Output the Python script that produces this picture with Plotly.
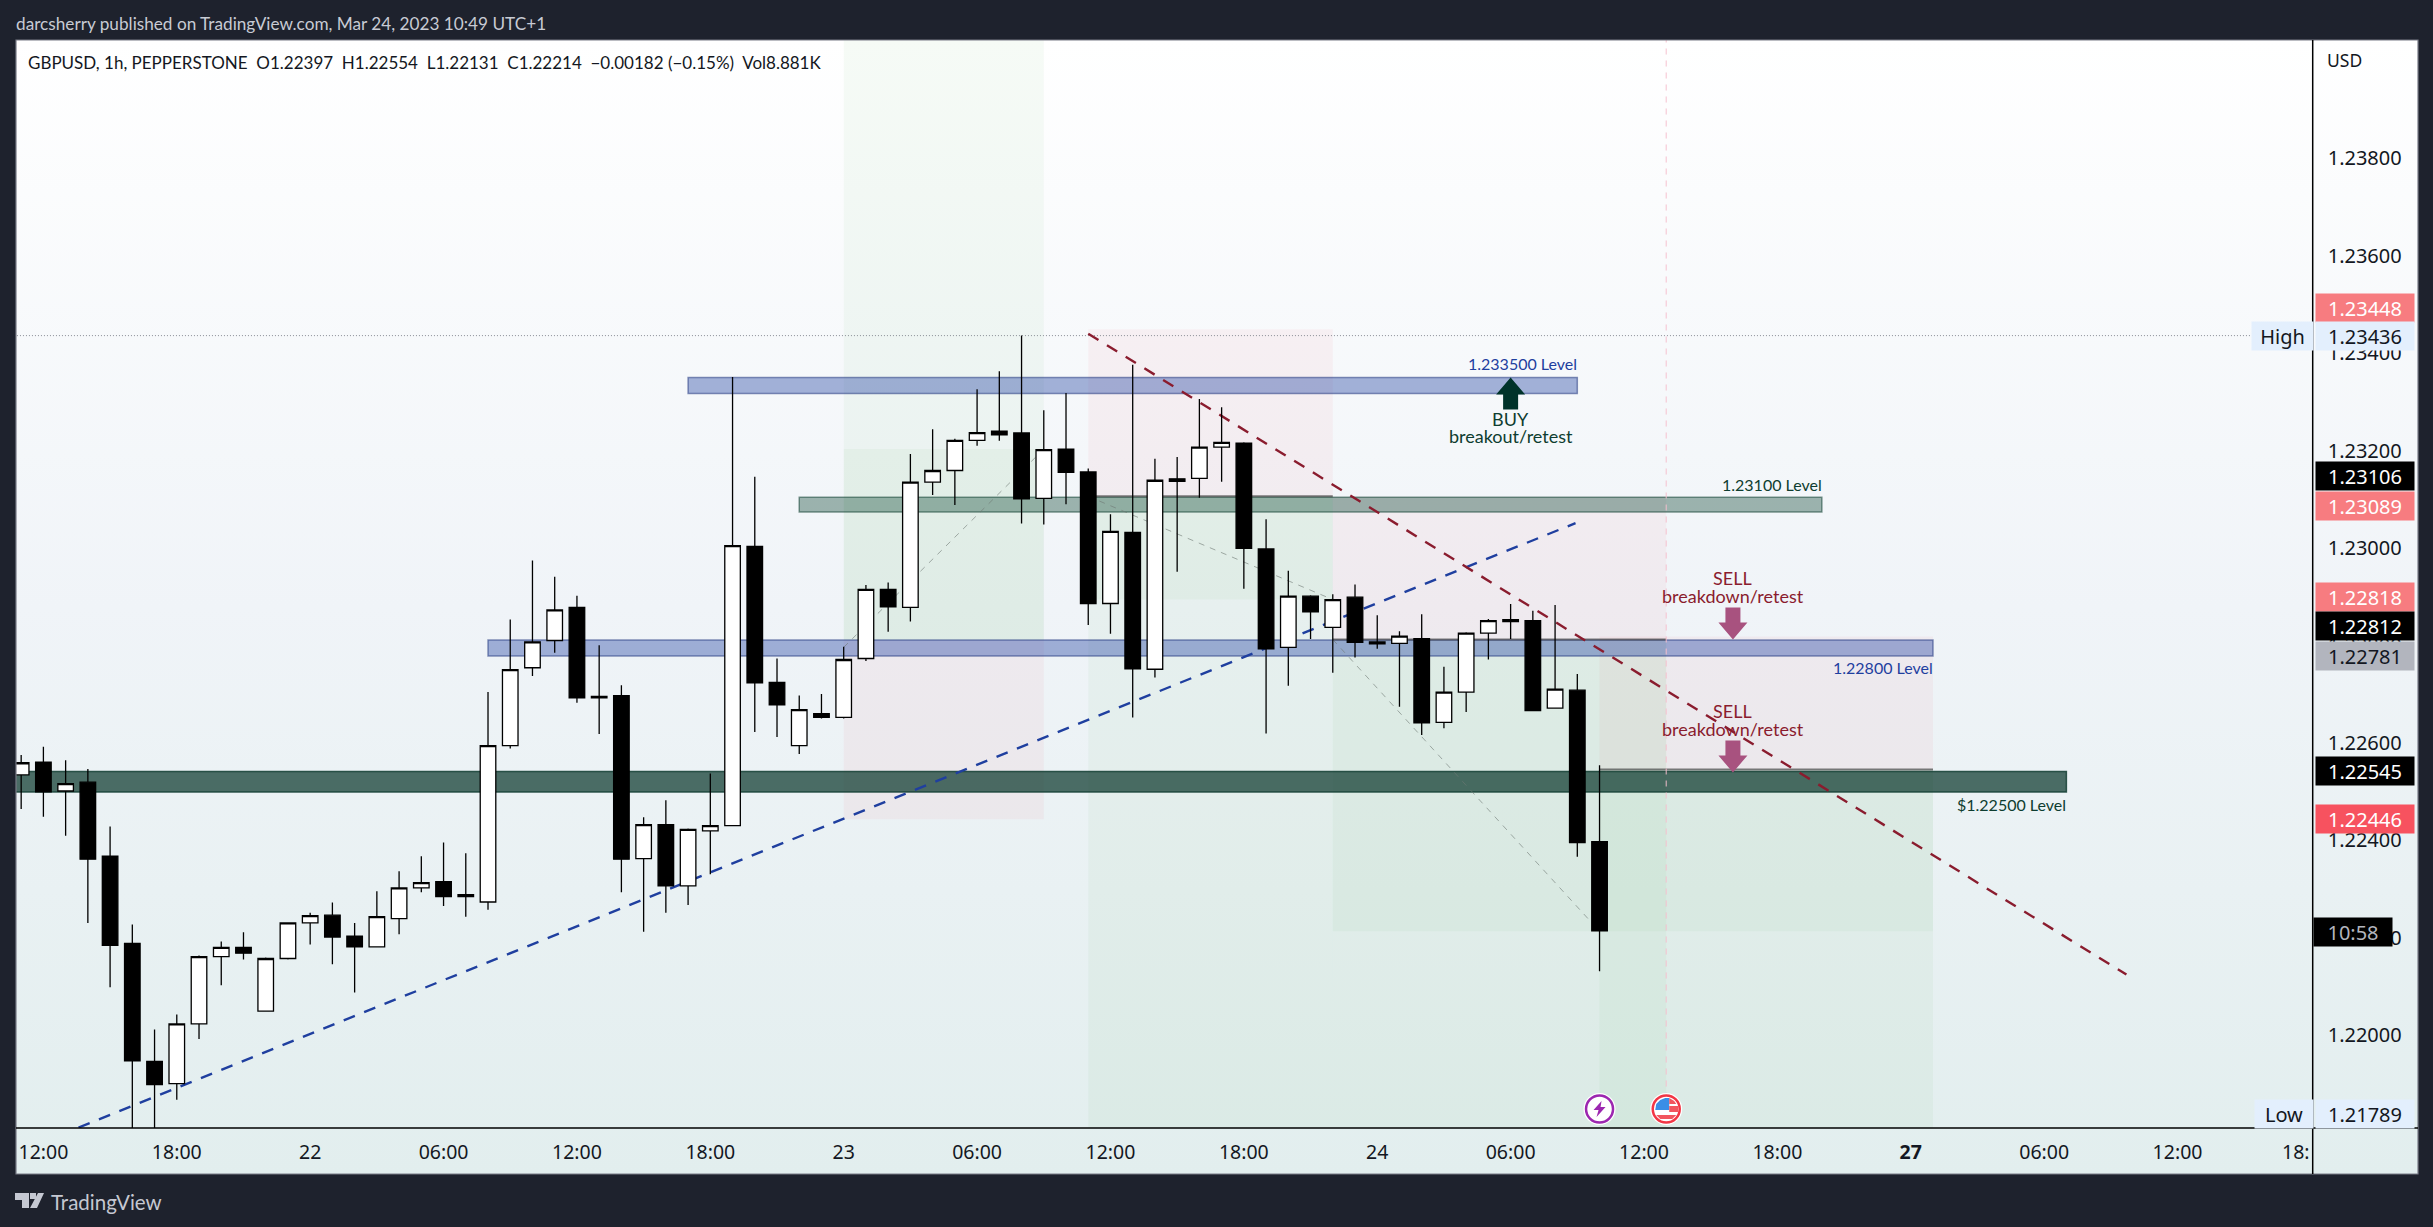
import plotly.graph_objects as go

# hourly bars, index 0 = Mar 21 12:00 (no weekend gap reached before Mar 24 10:00)
bars = list(range(-1, 71))
opens = [1.22534, 1.22560, 1.22501, 1.22519, 1.22367, 1.22188, 1.21946, 1.21900, 1.22023, 1.22161, 1.22180, 1.22049,
         1.22157, 1.22230, 1.22246, 1.22203, 1.22181, 1.22239, 1.22302, 1.22315, 1.22284, 1.22273, 1.22594, 1.22754,
         1.22810, 1.22878, 1.22695, 1.22697, 1.22362, 1.22432, 1.22306, 1.22419, 1.22430, 1.23003, 1.22724, 1.22594,
         1.22660, 1.22652, 1.22773, 1.22915, 1.22878, 1.23135, 1.23159, 1.23221, 1.23240, 1.23236, 1.23102, 1.23203,
         1.23156, 1.22886, 1.23032, 1.22751, 1.23142, 1.23143, 1.23207, 1.23215, 1.22998, 1.22796, 1.22901, 1.22837,
         1.22899, 1.22807, 1.22804, 1.22814, 1.22642, 1.22704, 1.22825, 1.22849, 1.22851, 1.22671, 1.22708, 1.22397]
highs = [1.22575, 1.22592, 1.22564, 1.22546, 1.22428, 1.22227, 1.22011, 1.22042, 1.22163, 1.22192, 1.22211, 1.22159,
         1.22230, 1.22251, 1.22272, 1.22230, 1.22295, 1.22336, 1.22367, 1.22395, 1.22373, 1.22704, 1.22853, 1.22974,
         1.22941, 1.22902, 1.22800, 1.22718, 1.22447, 1.22482, 1.22424, 1.22537, 1.23351, 1.23146, 1.22773, 1.22697,
         1.22700, 1.22797, 1.22924, 1.22929, 1.23193, 1.23244, 1.23224, 1.23326, 1.23363, 1.23436, 1.23283, 1.23318,
         1.23163, 1.23069, 1.23376, 1.23183, 1.23187, 1.23306, 1.23289, 1.23217, 1.23059, 1.22953, 1.22903, 1.22905,
         1.22925, 1.22862, 1.22829, 1.22864, 1.22756, 1.22827, 1.22854, 1.22885, 1.22871, 1.22883, 1.22741, 1.22554]
lows = [1.22464, 1.22448, 1.22409, 1.22230, 1.22098, 1.21795, 1.21789, 1.21867, 1.21992, 1.22102, 1.22155, 1.22049,
        1.22155, 1.22186, 1.22145, 1.22087, 1.22181, 1.22207, 1.22293, 1.22265, 1.22243, 1.22257, 1.22588, 1.22737,
        1.22785, 1.22682, 1.22618, 1.22293, 1.22212, 1.22251, 1.22267, 1.22330, 1.22430, 1.22622, 1.22612, 1.22577,
        1.22650, 1.22650, 1.22768, 1.22828, 1.22849, 1.23109, 1.23088, 1.23210, 1.23220, 1.23050, 1.23048, 1.23090,
        1.22842, 1.22824, 1.22652, 1.22734, 1.22951, 1.23103, 1.23136, 1.22916, 1.22619, 1.22717, 1.22813, 1.22744,
        1.22775, 1.22793, 1.22674, 1.22616, 1.22630, 1.22663, 1.22771, 1.22813, 1.22666, 1.22671, 1.22366, 1.22131]
closes = [1.22559, 1.22499, 1.22516, 1.22361, 1.22184, 1.21947, 1.21898, 1.22023, 1.22161, 1.22180, 1.22168, 1.22157,
          1.22230, 1.22245, 1.22201, 1.22181, 1.22243, 1.22302, 1.22313, 1.22284, 1.22288, 1.22594, 1.22750, 1.22807,
          1.22873, 1.22692, 1.22692, 1.22361, 1.22432, 1.22306, 1.22422, 1.22430, 1.23005, 1.22723, 1.22678, 1.22668,
          1.22652, 1.22771, 1.22915, 1.22879, 1.23135, 1.23159, 1.23221, 1.23237, 1.23232, 1.23101, 1.23202, 1.23155,
          1.22886, 1.23034, 1.22752, 1.23139, 1.23137, 1.23207, 1.23217, 1.22999, 1.22793, 1.22901, 1.22869, 1.22894,
          1.22806, 1.22803, 1.22819, 1.22641, 1.22704, 1.22825, 1.22851, 1.22853, 1.22666, 1.22710, 1.22395, 1.22214]

tick_idx = [0, 6, 12, 18, 24, 30, 36, 42, 48, 54, 60, 66, 72, 78, 84, 90, 96]
tick_txt = ["12:00", "18:00", "22", "06:00", "12:00", "18:00", "23", "06:00", "12:00", "18:00", "24", "06:00",
            "12:00", "18:00", "<b>27</b>", "06:00", "12:00"]
price_ticks = [1.238, 1.236, 1.234, 1.232, 1.230, 1.228, 1.226, 1.224, 1.222, 1.220]

# horizontal level bands
band_start = [29, 34, 20, -3]
band_end = [69, 80, 85, 91]
band_top = [1.23350, 1.23104, 1.22811, 1.22541]
band_bot = [1.23317, 1.23074, 1.22778, 1.22499]
band_text = ["1.233500 Level", "1.23100 Level", "1.22800 Level", "$1.22500 Level"]
band_text_price = [1.23379, 1.23131, 1.22754, 1.22474]

# long/short position boxes
green_start = [36, 36, 47, 47, 58, 70, 58, 73]
green_end = [45, 45, 58, 58, 73, 85, 73, 85]
green_top = [1.2405, 1.23203, 1.23105, 1.23105, 1.22811, 1.22545, 1.22811, 1.22545]
green_bot = [1.22811, 1.22811, 1.2170, 1.22894, 1.2170, 1.2170, 1.22213, 1.22213]
red_start = [36, 47, 58, 70]
red_end = [45, 58, 73, 85]
red_top = [1.22811, 1.23449, 1.23105, 1.22818]
red_bot = [1.22443, 1.23105, 1.22811, 1.22545]
entry_start = [47, 58, 70]
entry_end = [58, 73, 85]
entry_price = [1.23106, 1.22812, 1.22545]

# trend lines: start bar, start price, end bar, end price
blue_line = [1.58, 1.2181, 68.92, 1.23051]
red_line = [47, 1.23440, 93.7, 1.22124]
thin_lines = [[36, 1.22796, 45, 1.23203], [47, 1.23106, 58, 1.22894], [58, 1.22812, 70, 1.22213]]

high_price = 1.23436
event_idx = [70, 73]
event_price = [1.21848, 1.21848]

arrow_idx = [66, 76, 76]
arrow_price = [1.23350, 1.22812, 1.22539]

note_text = ["BUY", "breakout/retest", "SELL", "breakdown/retest", "SELL", "breakdown/retest"]
note_idx = [66, 66, 76, 76, 76, 76]
note_price = [1.23264, 1.23229, 1.22938, 1.22901, 1.22665, 1.22628]

label_text = ["1.23448", "1.23106", "1.23089", "1.22818", "1.22812", "1.22781", "1.22545", "1.22446"]
label_price = [1.23493, 1.23148, 1.23087, 1.22900, 1.22840, 1.22778, 1.22543, 1.22444]

FONT = "Noto Sans"
TEXT_FONT = "Lato"
INK = "#131722"
BLUE = "#1f3f9f"
DKGREEN = "#0e3d30"
MAROON = "#8a1c2e"
label_bg = ["#f77c80", "#000000", "#f77c80", "#f77c80", "#000000", "#b2b5be", "#000000", "#f7525f"]
label_fg = ["#ffffff", "#ffffff", "#ffffff", "#ffffff", "#ffffff", "#131722", "#ffffff", "#ffffff"]
band_fill = ["rgba(35,68,162,0.4)", "rgba(22,77,59,0.4)", "rgba(35,68,162,0.4)", "rgba(20,63,52,0.75)"]
band_line = ["rgba(40,60,130,0.55)", "rgba(22,70,55,0.55)", "rgba(40,60,130,0.55)", "rgba(20,63,52,0.85)"]
band_ink = [BLUE, DKGREEN, BLUE, DKGREEN]
note_ink = [DKGREEN, DKGREEN, MAROON, MAROON, MAROON, MAROON]
arrow_ink = ["#00332a", "#a8527f", "#a8527f"]

L, R, T, B = 16, 15, 40, 53
W, H = 2433, 1227
AXIS_X, AXIS_Y = 2312.7, 1128


def px(x):
    return (x - L) / (W - L - R)


def py(y):
    return (H - B - y) / (H - T - B)


fig = go.Figure()

# frame gradient lives on the first subplot so it sits under everything
fig.add_trace(go.Scatter(x=[0, 1, 1, 0, 0], y=[0, 0, 1, 1, 0], fill="toself", mode="none", hoverinfo="skip",
                         fillgradient=dict(type="vertical",
                                           colorscale=[[0, "#e2eeee"], [0.5, "#f0f4f8"], [1, "#ffffff"]]),
                         xaxis="x", yaxis="y", showlegend=False))

fig.add_trace(go.Candlestick(x=bars, open=opens, high=highs, low=lows, close=closes, xaxis="x2", yaxis="y2",
                             whiskerwidth=0, showlegend=False, hoverinfo="skip",
                             increasing=dict(fillcolor="#ffffff", line=dict(color="#000000", width=1.3)),
                             decreasing=dict(fillcolor="#000000", line=dict(color="#000000", width=1.3))))

fig.add_trace(go.Scatter(x=event_idx, y=event_price, mode="markers", xaxis="x2", yaxis="y2", showlegend=False,
                         hoverinfo="skip", cliponaxis=False,
                         marker=dict(size=32, color="#ffffff", line=dict(width=0))))
fig.add_trace(go.Scatter(x=event_idx, y=event_price, mode="markers", xaxis="x2", yaxis="y2", showlegend=False,
                         hoverinfo="skip", cliponaxis=False,
                         marker=dict(size=27, color="#ffffff", line=dict(width=2.5, color=["#9c27b0", "#f23645"]))))

shapes = []


def rect(x0, x1, y0, y1, fill, line=None, width=0):
    shapes.append(dict(type="rect", xref="x2", yref="y2", x0=x0, x1=x1, y0=y0, y1=y1, layer="below",
                       fillcolor=fill, line=dict(color=line or "rgba(0,0,0,0)", width=width)))


def seg(coords, color, width, dash):
    shapes.append(dict(type="line", xref="x2", yref="y2", x0=coords[0], y0=coords[1], x1=coords[2], y1=coords[3],
                       layer="below", line=dict(color=color, width=width, dash=dash)))


def glyph(idx, price, path, color):
    shapes.append(dict(type="path", xref="x2", yref="y2", xsizemode="pixel", ysizemode="pixel", xanchor=idx,
                       yanchor=price, path=path, fillcolor=color, line=dict(width=0), layer="above"))


for i in range(len(green_start)):
    rect(green_start[i], green_end[i], green_top[i], green_bot[i], "rgba(76,175,80,0.05)")
for i in range(len(red_start)):
    rect(red_start[i], red_end[i], red_top[i], red_bot[i], "rgba(242,54,69,0.05)")
for i in range(len(band_start)):
    rect(band_start[i], band_end[i], band_top[i], band_bot[i], band_fill[i], band_line[i], 1.5)
for i in range(len(entry_start)):
    seg([entry_start[i], entry_price[i], entry_end[i], entry_price[i]], "rgba(70,70,70,0.7)", 2, "solid")
seg([73, 1.2405, 73, 1.2179], "rgba(245,190,205,0.8)", 1.2, "6px,6px")
seg([-2, high_price, 99.3, high_price], "#8a8d96", 1, "1px,2px")
for c in thin_lines:
    seg(c, "rgba(110,120,115,0.6)", 1, "6px,6px")
seg(blue_line, BLUE, 2.4, "12px,10px")
seg(red_line, MAROON, 2.4, "12px,10px")

# pixel paths: y grows upward from the anchor, which is the arrow tip
ARROW_UP = "M -7.5 -32 L 7.5 -32 L 7.5 -17 L 14.5 -17 L 0 0 L -14.5 -17 L -7.5 -17 Z"
ARROW_DOWN = "M -7.5 32 L 7.5 32 L 7.5 17 L 14.5 17 L 0 0 L -14.5 17 L -7.5 17 Z"
glyph(arrow_idx[0], arrow_price[0], ARROW_UP, arrow_ink[0])
glyph(arrow_idx[1], arrow_price[1], ARROW_DOWN, arrow_ink[1])
glyph(arrow_idx[2], arrow_price[2], ARROW_DOWN, arrow_ink[2])

# economic event icons
glyph(event_idx[0], event_price[0], "M 2 8 L -6 -1 L -1 -1 L -3 -8 L 6 2 L 1 2 Z", "#9c27b0")
glyph(event_idx[1], event_price[1], "M -11 -1 L -10 5 L -6 9 L -1 11 L 3 11 L 3 -1 Z", "#3a8ee6")
glyph(event_idx[1], event_price[1], "M 3 11 L 8 8 L 10 5 L 3 5 Z", "#f2555f")
glyph(event_idx[1], event_price[1], "M 3 3 L 12 3 L 12 -3 L 3 -3 Z", "#f2555f")
glyph(event_idx[1], event_price[1], "M -10 -6 L 10 -6 L 6 -10 L -6 -10 Z", "#f2555f")

# frame and axis lines
shapes.append(dict(type="rect", xref="paper", yref="paper", x0=0, x1=1, y0=0, y1=1, layer="above",
                   line=dict(color="#787b86", width=1.2)))
shapes.append(dict(type="line", xref="paper", yref="paper", x0=0, x1=1, y0=py(AXIS_Y), y1=py(AXIS_Y), layer="above",
                   line=dict(color="#000000", width=1.5)))
shapes.append(dict(type="line", xref="paper", yref="paper", x0=px(AXIS_X), x1=px(AXIS_X), y0=0, y1=1, layer="above",
                   line=dict(color="#000000", width=1.5)))

# tradingview logo
for path in ["M 0 15 L 14 15 L 14 0 L 7 0 L 7 8 L 0 8 Z", "M 15 15 L 21 15 L 21 9 L 15 9 Z",
             "M 23 15 L 29 15 L 22 0 L 15 0 Z"]:
    shapes.append(dict(type="path", xref="paper", yref="paper", xsizemode="pixel", ysizemode="pixel",
                       xanchor=px(15), yanchor=py(1208), path=path, fillcolor="#c5c8d2", line=dict(width=0)))

ann = []


def chrome(text, x, y, size, color, anchor="left", family=TEXT_FONT):
    ann.append(dict(text=text, xref="paper", yref="paper", x=px(x), y=py(y), xanchor=anchor, yanchor="middle",
                    showarrow=False, font=dict(family=family, size=size, color=color)))


chrome("darcsherry published on TradingView.com, Mar 24, 2023 10:49 UTC+1", 14, 23, 17.2, "#c8cbd4")
chrome("GBPUSD, 1h, PEPPERSTONE&nbsp;&nbsp;O1.22397&nbsp;&nbsp;H1.22554&nbsp;&nbsp;L1.22131&nbsp;&nbsp;C1.22214"
       "&nbsp;&nbsp;−0.00182 (−0.15%)&nbsp;&nbsp;Vol8.881K", 26, 62.5, 17, INK)
chrome("TradingView", 49, 1201.7, 20.5, "#c5c8d2")
chrome("USD", 2325, 60, 17.5, INK, family=FONT)
chrome("18:", 2312, 1151, 19.5, INK, "right", FONT)


def chip(text, left, width, y_kw, bg, fg):
    ann.append(dict(text=text, xref="paper", x=px(left), xanchor="left", yanchor="middle", showarrow=False,
                    width=width, height=28, bgcolor=bg, borderpad=0, align="center", valign="middle",
                    font=dict(family=FONT, size=20, color=fg), **y_kw))


for i in range(len(label_text)):
    chip(label_text[i], AXIS_X + 2, 98, dict(yref="y2", y=label_price[i]), label_bg[i], label_fg[i])
chip("High", 2251, 61, dict(yref="y2", y=high_price), "#e3effd", INK)
chip("1.23436", AXIS_X + 2, 98, dict(yref="y2", y=high_price), "#e3effd", INK)
chip("Low", 2254, 58, dict(yref="paper", y=py(1113.6)), "#e3effd", INK)
chip("1.21789", AXIS_X + 2, 98, dict(yref="paper", y=py(1113.6)), "#e3effd", INK)
chip("10:58", AXIS_X, 78, dict(yref="paper", y=py(931.6)), "#000000", "#b2b5be")

for i in range(len(band_text)):
    ann.append(dict(text=band_text[i], xref="x2", yref="y2", x=band_end[i], y=band_text_price[i], xanchor="right",
                    xshift=2, yanchor="middle", showarrow=False,
                    font=dict(family=TEXT_FONT, size=16, color=band_ink[i])))
for i in range(len(note_text)):
    ann.append(dict(text=note_text[i], xref="x2", yref="y2", x=note_idx[i], y=note_price[i], xanchor="center",
                    yanchor="middle", showarrow=False, font=dict(family=TEXT_FONT, size=18, color=note_ink[i])))

fig.update_layout(
    width=W, height=H, autosize=False,
    margin=dict(l=L, r=R, t=T, b=B, pad=0),
    paper_bgcolor="#1e222d", plot_bgcolor="rgba(0,0,0,0)",
    showlegend=False, hovermode=False, shapes=shapes, annotations=ann,
    boxgap=0.3, boxgroupgap=0,
    font=dict(family=FONT, color=INK),
    xaxis=dict(domain=[0, 1], range=[0, 1], visible=False, fixedrange=True),
    yaxis=dict(domain=[0, 1], range=[0, 1], visible=False, fixedrange=True),
    xaxis2=dict(domain=[0, px(AXIS_X)], anchor="y2", range=[-1.2326, 102.08], showgrid=False, zeroline=False,
                rangeslider=dict(visible=False), tickmode="array", tickvals=tick_idx, ticktext=tick_txt,
                ticks="outside", ticklen=7, tickcolor="rgba(0,0,0,0)", tickangle=0,
                tickfont=dict(family=FONT, size=19.5, color=INK)),
    yaxis2=dict(domain=[py(AXIS_Y), 1], anchor="x2", side="right", range=[1.21809, 1.24043], showgrid=False,
                zeroline=False, tickmode="array", tickvals=price_ticks, ticktext=[f"{v:.5f}" for v in price_ticks],
                ticks="outside", ticklen=10, tickcolor="rgba(0,0,0,0)",
                tickfont=dict(family=FONT, size=20, color=INK)),
)

fig.write_html("out.html", config=dict(displayModeBar=False),
               post_script="document.body.style.margin='0';document.body.style.background='#1e222d';")
